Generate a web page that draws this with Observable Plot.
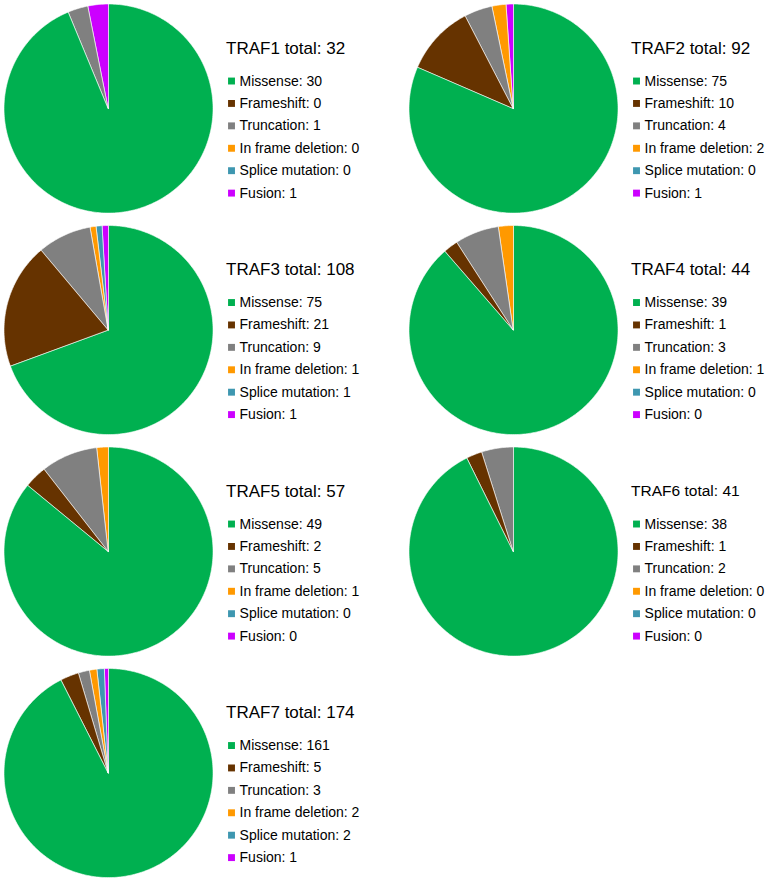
<!DOCTYPE html>
<html><head><meta charset="utf-8">
<script src="https://cdn.jsdelivr.net/npm/d3@7"></script>
<script src="https://cdn.jsdelivr.net/npm/@observablehq/plot@0.6"></script>
<style>html,body{margin:0;padding:0;background:#fff;} #chart svg{display:block;}</style>
</head><body><div id="chart"></div>
<script>
// ---- data ----
const genes = ["TRAF1","TRAF2","TRAF3","TRAF4","TRAF5","TRAF6","TRAF7"];
const types = ["Missense","Frameshift","Truncation","In frame deletion","Splice mutation","Fusion"];
const missense        = [30, 75, 75, 39, 49, 38, 161];
const frameshift      = [0, 10, 21, 1, 2, 1, 5];
const truncation      = [1, 4, 9, 3, 5, 2, 3];
const inFrameDeletion = [0, 2, 1, 1, 1, 0, 2];
const spliceMutation  = [0, 0, 1, 0, 0, 0, 2];
const fusion          = [1, 1, 1, 0, 0, 0, 1];
const colors = ["#00B050","#663300","#808080","#FF9900","#3E97B0","#CC00FF"];

// ---- derived tables ----
const series = [missense, frameshift, truncation, inFrameDeletion, spliceMutation, fusion];
const totals = genes.map((g, i) => d3.sum(series, s => s[i]));

const arcs = [], legend = [], titles = [];
genes.forEach((gene, i) => {
  const col = i % 2, row = Math.floor(i / 2);
  titles.push({gene, col, row, label: `${gene} total: ${totals[i]}`});
  let cum = 0;
  types.forEach((type, k) => {
    const v = series[k][i];
    legend.push({gene, col, row, k, type, label: `${type}: ${v}`});
    if (v > 0) {
      const a0 = cum / totals[i] * 2 * Math.PI, a1 = (cum + v) / totals[i] * 2 * Math.PI;
      const n = Math.max(2, Math.ceil((a1 - a0) / (Math.PI / 180)));
      for (let j = 0; j <= n; j++) {
        arcs.push({gene, type, col, row, key: gene + "|" + type, a: a0 + (a1 - a0) * j / n});
      }
    }
    cum += v;
  });
});

const chart = Plot.plot({
  width: 772, height: 881,
  marginLeft: 4, marginRight: 6.6, marginTop: 4, marginBottom: 3.4,
  style: {fontFamily: "'Liberation Sans', Arial, sans-serif", background: "white", color: "#000"},
  fx: {domain: [0, 1], axis: null, paddingInner: 0.12, paddingOuter: 0, round: false},
  fy: {domain: [0, 1, 2, 3], axis: null, paddingInner: 0.056, paddingOuter: 0, round: false},
  x: {domain: [-1, 2.41], axis: null},
  y: {domain: [-1, 1], axis: null},
  color: {domain: types, range: colors},
  marks: [
    Plot.area(arcs, {
      fx: "col", fy: "row", z: "key",
      x1: d => 0, y1: d => 0,
      x2: d => Math.sin(d.a), y2: d => Math.cos(d.a),
      fill: "type", stroke: "white", strokeWidth: 0.6
    }),
    Plot.text(titles, {
      fx: "col", fy: "row", x: d => 1.12, y: d => 0.58, text: "label",
      textAnchor: "start", fontSize: d => d.gene === "TRAF6" ? 15.5 : 17, fill: "#000"
    }),
    Plot.dot(legend, {
      fx: "col", fy: "row", x: d => 1.172, y: d => 0.268 - d.k * 0.2144,
      symbol: "square", r: 3.9, fill: "type"
    }),
    Plot.text(legend, {
      fx: "col", fy: "row", x: d => 1.249, y: d => 0.268 - d.k * 0.2144, text: "label",
      textAnchor: "start", fontSize: 14, fill: "#000"
    })
  ]
});
document.getElementById("chart").appendChild(chart);
</script>
</body></html>
